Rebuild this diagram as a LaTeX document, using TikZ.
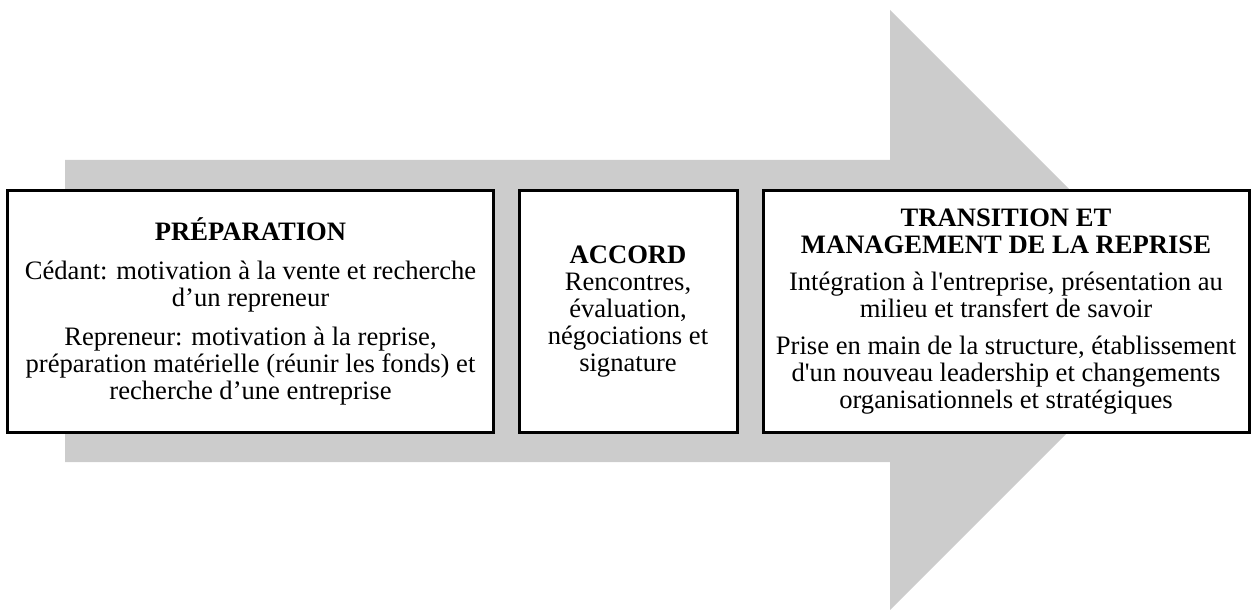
\documentclass[tikz,border=0pt]{standalone}
\usepackage{fontspec}
\setmainfont{Liberation Serif}
\usepackage{tikz}

\begin{document}
\begin{tikzpicture}[x=0.5pt,y=-0.5pt]
    \tikzstyle{every node}=[draw,line width=1.5pt,fill=white,align=center,inner sep=0pt,minimum height=121pt,font=\fontsize{13.3}{13.5}\selectfont];
    \useasboundingbox (0,0) rectangle (1253,610);

    % big grey arrow behind the three stages
    \fill[black!20] (65,160) -- (890,160) -- (890,10) -- (1190,310) -- (890,610)
        -- (890,462) -- (65,462) -- cycle;

    \node at (250.5, 311.5) (prep) [minimum width=243pt]
        {\textbf{PRÉPARATION}\\[6pt]
         Cédant: motivation à la vente et recherche\\
         d’un repreneur\\[6pt]
         Repreneur: motivation à la reprise,\\
         préparation matérielle (réunir les fonds) et\\
         recherche d’une entreprise};
    \node at (628, 311.5) (accord) [minimum width=109pt]
        {\textbf{ACCORD}\\
         Rencontres,\\
         évaluation,\\
         négociations et\\
         signature};
    \node at (1006, 311.5) (trans) [minimum width=243pt]
        {\textbf{TRANSITION ET}\\
         \textbf{MANAGEMENT DE LA REPRISE}\\[5pt]
         Intégration à l\textquotesingle entreprise, présentation au\\
         milieu et transfert de savoir\\[5pt]
         Prise en main de la structure, établissement\\
         d\textquotesingle un nouveau leadership et changements\\
         organisationnels et stratégiques};
\end{tikzpicture}
\end{document}
